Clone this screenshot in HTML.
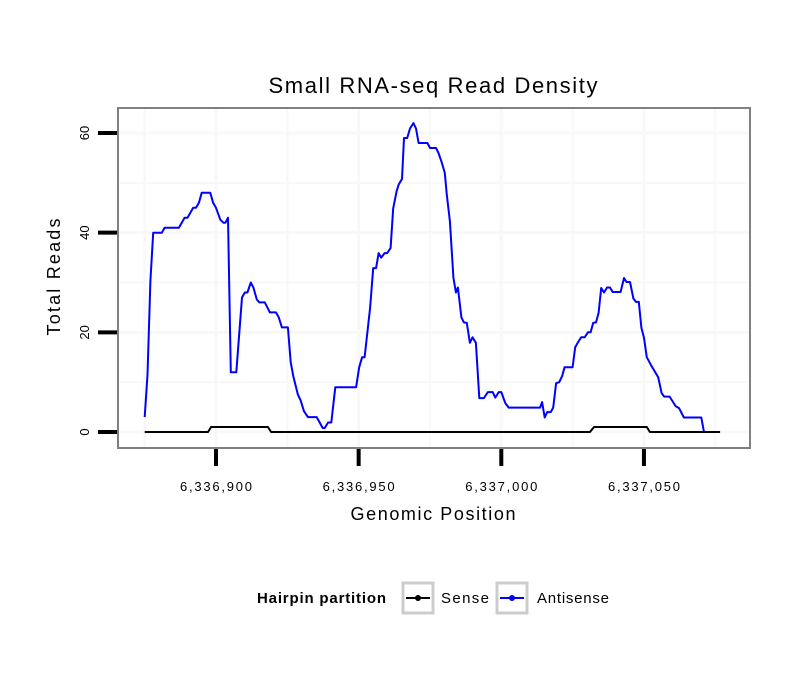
<!DOCTYPE html>
<html><head><meta charset="utf-8"><style>
body{margin:0;background:#fff;}
svg text{font-family:"Liberation Sans",Arial,sans-serif;}
</style></head><body>
<svg id="chart" width="810" height="690" xmlns="http://www.w3.org/2000/svg">
<rect width="810" height="690" fill="#fff"/>
<text x="433" y="93" font-size="22" text-anchor="middle" textLength="329" lengthAdjust="spacing">Small RNA-seq Read Density</text>
<g id="grid"></g>
<g id="series"></g>
<rect x="118" y="108" width="632" height="340" fill="none" stroke="#808080" stroke-width="2"/>
<g id="axes"></g>
<text x="433" y="520" font-size="18" text-anchor="middle" textLength="165" lengthAdjust="spacing">Genomic Position</text>
<text transform="translate(60,277) rotate(-90)" font-size="18" text-anchor="middle" textLength="117" lengthAdjust="spacing">Total Reads</text>
<g>
<text x="257" y="603" font-size="15" font-weight="bold" textLength="129" lengthAdjust="spacing">Hairpin partition</text>
<g>
<rect x="403" y="583" width="30" height="30" fill="#fff" stroke="#ccc" stroke-width="3"/>
<line x1="406" y1="598" x2="430" y2="598" stroke="#000" stroke-width="2"/>
<circle cx="418" cy="598" r="3" fill="#000"/>
<text x="441" y="603" font-size="15" textLength="48" lengthAdjust="spacing">Sense</text></g>
<g>
<rect x="497" y="583" width="30" height="30" fill="#fff" stroke="#ccc" stroke-width="3"/>
<line x1="500" y1="598" x2="524" y2="598" stroke="#00f" stroke-width="2"/>
<circle cx="512" cy="598" r="3" fill="#00f"/>
<text x="537" y="603" font-size="15" textLength="72" lengthAdjust="spacing">Antisense</text></g>
</g>
</svg>
<script>
const basePosition = 6336900;
const xTicks = [6336900, 6336950, 6337000, 6337050];
const xTickLabels = ["6,336,900", "6,336,950", "6,337,000", "6,337,050"];
const yTicks = [0, 20, 40, 60];
const yTickLabels = ["0", "20", "40", "60"];
const antisenseOffset = [-25,-24,-23,-22,-19,-18,-13,-11,-10,-8,-7,-6,-5,-2,-1,0,1.5,2.6,3.3,4.2,5.2,7.1,9.1,10.1,11,12.2,13.1,14.3,15.2,17.1,18.9,21,22,23.1,25.2,26.2,27.1,28.7,29.7,30.8,32.2,35.3,37.4,38.1,39.3,40.4,41.8,49.1,50.2,51.2,52.1,54,55.1,56.1,57,57.9,59.1,60,61.2,62.1,63.3,64,65.2,65.9,67,68,69.2,70.1,71,74.1,75,77.1,78,79,80.2,80.9,82,83.2,84.1,84.8,86,86.9,87.9,89,89.9,91.1,92.3,93.9,95.3,97,97.9,99.1,100,101.4,102.6,113.6,114.3,115.2,116.1,117.3,118.2,119.2,120.3,121.3,122.2,125,125.9,127.1,128,129.2,130.4,131.3,132.2,133.2,134.1,135,136,137.1,138.1,139,141.8,143,143.9,145.1,146.3,147.2,148.2,149.1,150,151,152.4,155,156.2,157.1,159,160.2,161.1,162.3,164,170.1,171];
const antisenseReads = [3,11.5,30.3,40,40,41,41,43,43,45,45,46,48,48,46,45,42.6,42,42,43,12,12,27,28,28,30,29,26.6,26,26,24,24,23,21,21,14,11.2,7.5,6.3,4.2,3,3,0.8,0.8,1.9,1.9,9,9,13,15,15,24.9,32.9,32.9,35.9,35,35.9,35.9,36.9,44.9,48.3,49.6,50.8,59,59,60.9,62,60.9,58,58,57,57,56,54.3,52,47.6,42.3,31,28,29,23,22,21.9,17.9,19,17.9,6.8,6.8,8,8,6.9,8,8,5.8,4.9,4.9,6,2.9,4,4,4.9,9.8,10,11.2,13,13,17,18.2,19,19,20,20,21.9,22,23.9,28.9,28,29,29,28.1,28.1,30.9,30.1,30.1,26.8,26.1,26.1,20.9,18.9,15,13.5,11,7.8,7.1,7.1,6,5.2,4.8,2.9,2.9,0.1];
const senseOffset = [-25,-2.8,-1.7,18.2,19.3,131.1,132.5,151,152.1,176.7];
const senseReads = [0,0,1,1,0,0,1,1,0,0];

const NS="http://www.w3.org/2000/svg";
const X = p => 216 + (p - 6336900) * 2.853;
const Y = v => 432 - v * 4.983;
function mk(tag, attrs, parent){const e=document.createElementNS(NS,tag);for(const k in attrs)e.setAttribute(k,attrs[k]);parent.appendChild(e);return e;}
const grid=document.getElementById('grid'), axes=document.getElementById('axes'), series=document.getElementById('series');
for(let v=0; v<=65; v+=10){
  const l=mk('line',{x1:119,x2:749,y1:Y(v),y2:Y(v),stroke:'#f8f8f8','stroke-width':v%20===0?3:2},grid);
  
  
}
for(let p=6336875; p<=6337075; p+=25){
  const l=mk('line',{x1:X(p),x2:X(p),y1:109,y2:447,stroke:'#f8f8f8','stroke-width':p%50===0?3:2},grid);
  
  
}
yTicks.forEach((v,i)=>{
  const t=mk('line',{x1:98,x2:117,y1:Y(v),y2:Y(v),stroke:'#000','stroke-width':4},axes);
  
  
  const tx=mk('text',{transform:`translate(89,${Y(v)}) rotate(-90)`,'font-size':13,'text-anchor':'middle'},axes);
  tx.textContent=yTickLabels[i];
  
  
});
xTicks.forEach((p,i)=>{
  const t=mk('line',{x1:X(p),x2:X(p),y1:449,y2:466,stroke:'#000','stroke-width':4},axes);
  
  
  const tx=mk('text',{x:X(p),y:491,'font-size':13,'text-anchor':'middle',textLength:72,lengthAdjust:'spacing'},axes);
  tx.textContent=xTickLabels[i];
  
  
});
function line(off, vals, color, name){
  const d=off.map((o,i)=>(i?'L':'M')+X(basePosition+o).toFixed(1)+','+Y(vals[i]).toFixed(1)).join('');
  const p=mk('path',{d:d,fill:'none',stroke:color,'stroke-width':2,'stroke-linejoin':'round'},series);
  
  
}
line(senseOffset,senseReads,'#000','sense-line');
line(antisenseOffset,antisenseReads,'#00f','antisense-line');
</script>
</body></html>
